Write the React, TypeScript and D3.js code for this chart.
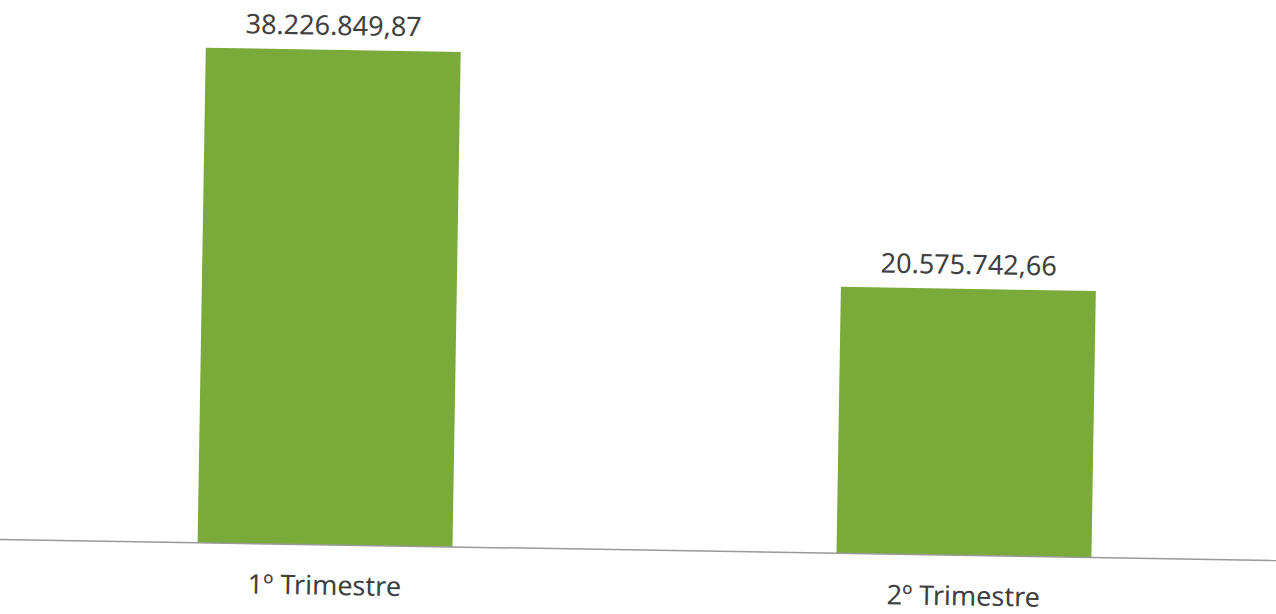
import React from "react";
import * as d3 from "d3";

const categories = ["1º Trimestre", "2º Trimestre"];
const values = [38226849.87, 20575742.66];
const valueLabels = ["38.226.849,87", "20.575.742,66"];

const W = 1276;
const H = 614;
const BASE = 550;

export default function App() {
  const x = d3
    .scaleBand<string>()
    .domain(categories)
    .range([5.5, 1283.5])
    .paddingInner(0.601)
    .paddingOuter(0.3005);
  const y = d3.scaleLinear().domain([0, 40000000]).range([BASE, 32]);
  const font = "'Noto Sans', 'Open Sans', sans-serif";
  return (
    <svg
      width={W}
      height={H}
      style={{ position: "absolute", left: 0, top: 0, background: "#fff" }}
    >
      <g transform={`rotate(0.95, 638, ${BASE})`}>
        {categories.map((c, i) => (
          <g key={c}>
            <rect
              x={x(c)!}
              y={y(values[i])}
              width={x.bandwidth()}
              height={y(0) - y(values[i])}
              fill="#7aab3a"
            />
            <text
              x={x(c)! + x.bandwidth() / 2}
              y={y(values[i]) - 15}
              textAnchor="middle"
              fontFamily={font}
              fontSize={27}
              fill="#404040"
            >
              {valueLabels[i]}
            </text>
            <text
              x={x(c)! + x.bandwidth() / 2}
              y={600}
              textAnchor="middle"
              fontFamily={font}
              fontSize={27}
              fill="#404040"
            >
              {c}
            </text>
          </g>
        ))}
        <line x1={-2} x2={1290} y1={y(0)} y2={y(0)} stroke="#999" strokeWidth={1.5} />
      </g>
    </svg>
  );
}
